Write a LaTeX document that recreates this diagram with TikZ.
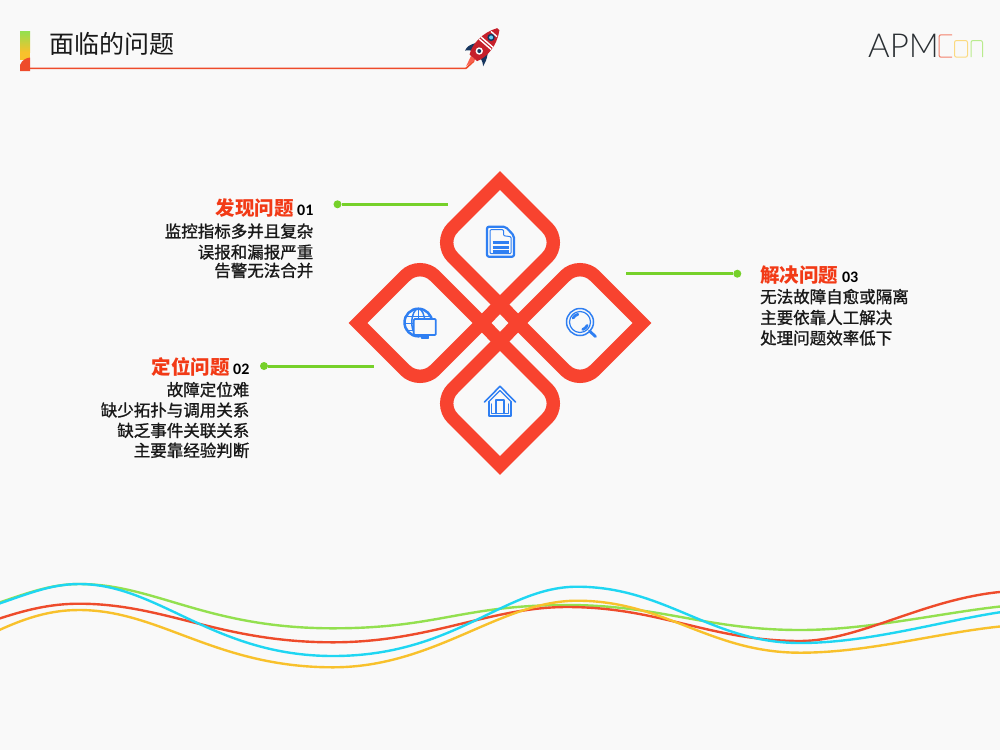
\documentclass[tikz,border=0pt]{standalone}
\usepackage{fontspec}
\usepackage{xcolor}
\usepackage{tikz}
\usetikzlibrary{arrows.meta,positioning}
\newfontfamily\cjkfont{Noto Sans CJK SC}
\newfontfamily\cjkdark[FakeBold=1.2]{Noto Sans CJK SC}
\newfontfamily\numfont{Carlito}
\newfontfamily\logofont{Lato Light}
\definecolor{pagebg}{HTML}{F9F9F9}
\definecolor{petalred}{HTML}{F8432F}
\definecolor{headred}{HTML}{F23A16}
\definecolor{leadgreen}{HTML}{76D12A}
\definecolor{iconblue}{HTML}{2F7FF2}
\definecolor{wavegreen}{HTML}{93E04F}
\definecolor{wavecyan}{HTML}{1FD6F2}
\definecolor{wavered}{HTML}{EE4B2B}
\definecolor{waveyellow}{HTML}{F8C12C}
\definecolor{finblue}{HTML}{17365F}
\definecolor{rocketred}{HTML}{C6202B}
\definecolor{logodark}{HTML}{2A2F33}
\tikzset{
  headtext/.style={inner sep=0pt, text height=16pt, text depth=4pt, text=headred,
    font=\cjkfont\bfseries\fontsize{19.5}{20}\selectfont},
  numtext/.style={inner sep=0pt, text=black, font=\numfont\bfseries\fontsize{16}{18}\selectfont},
  bodytext/.style={inner sep=0pt, text height=13pt, text depth=3pt, text=black!90,
    font=\cjkdark\fontsize{16.5}{17}\selectfont},
  leaderdot/.style={circle, fill=leadgreen, inner sep=0pt, minimum size=8pt},
  leaderline/.style={draw=leadgreen, line width=3pt},
  waveline/.style={line width=2.4pt},
  petalline/.style={draw=petalred, line width=13.4pt, miter limit=10},
  iconline/.style={draw=iconblue, line width=1.2pt, line join=round, line cap=round},
  petal/.pic={
    \draw[petalline]
      (0,-62) [rounded corners=21pt] -- (62,0) [sharp corners] -- (0,62)
      [rounded corners=21pt] -- (-62,0) [sharp corners] -- cycle;
  },
  docicon/.pic={
    \draw[iconline, line width=2.2pt, rounded corners=2pt]
      (-13.5,-15) -- (5,-15) -- (13.5,-6) -- (13.5,15) -- (-13.5,15) -- cycle;
    \draw[iconline, line width=1pt, rounded corners=1pt]
      (-10.5,-12) -- (3,-12) -- (3,-6) -- (10.5,-5) -- (10.5,12) -- (-10.5,12) -- cycle;
    \foreach \barY in {1,5.5,10}
      \draw[iconline, line width=2.6pt, line cap=butt] (-8,\barY) -- (8,\barY);
  },
  globeicon/.pic={
    \draw[iconline, line width=2.5pt] (0,0) circle (13.8pt);
    \draw[iconline, line width=1.5pt] (0,0) ellipse (6.5pt and 13.8pt);
    \draw[iconline, line width=1.5pt] (-13,-6) -- (13,-6) (-13.8,1) -- (13.8,1) (-12,8) -- (12,8) (0,-14) -- (0,14);
    \draw[iconline, fill=pagebg, line width=1.8pt, rounded corners=1pt] (-4.5,-3.5) rectangle (17.5,12.5);
    \draw[iconline, fill=iconblue] (3,13) rectangle (10,15.5);
  },
  lensicon/.pic={
    \draw[iconline, line width=1.5pt] (0,0) circle (13.5pt);
    \draw[iconline] (0,0) circle (10.5pt);
    \draw[iconline, line width=2.8pt] (-6.93,-4) arc[start angle=150, end angle=105, radius=8pt];
    \draw[iconline, line width=2.8pt] (7.25,3.38) arc[start angle=-25, end angle=-70, radius=8pt];
    \draw[iconline, line width=2.8pt] (9.5,9) -- (15.5,14.5);
  },
  houseicon/.pic={
    \draw[iconline, line width=1.6pt] (-15.5,1) -- (0,-14.7) -- (15.5,1);
    \draw[iconline] (-11.5,1) -- (0,-10.5) -- (11.5,1);
    \draw[iconline, line width=1.5pt] (-11,1) -- (-11,15) -- (11,15) -- (11,1);
    \draw[iconline] (-8.2,3) -- (-8.2,12.3) -- (8.2,12.3) -- (8.2,3);
    \draw[iconline, line width=2pt] (-4,12.3) -- (-4,-1.5) -- (4,-1.5) -- (4,12.3);
  },
  rocket/.pic={
    \fill[petalred!85] (-17,-3) -- (-28,0) -- (-17,3) -- cycle;
    \fill[finblue] (-3,-7) .. controls (-10,-12) and (-13,-12) .. (-17,-11) .. controls (-13,-8) and (-13,-6) .. (-12,-3) -- cycle;
    \fill[finblue] (-3,7) .. controls (-10,12) and (-13,12) .. (-17,13) .. controls (-13,9) and (-13,6) .. (-12,3) -- cycle;
    \fill[rocketred] (-17,-5) .. controls (-8,-10) and (8,-10) .. (21,-1.5)
      .. controls (21.5,-0.5) and (21.5,0.5) .. (21,1.5) .. controls (8,10) and (-8,10) .. (-17,5) -- cycle;
    \draw[white, line width=1.4pt] (1,-8) -- (1,8) (3.8,-8) -- (3.8,8) (14.5,-4) -- (14.5,4);
    \fill[finblue] (10,0) circle (3.7pt);
    \fill[white!40!cyan] (10,0) circle (2pt);
    \fill[white] (-8,0) circle (3.7pt);
    \fill[finblue] (-8,0) circle (2pt);
  }
}
\begin{document}
\begin{tikzpicture}[x=1pt,y=-1pt]
\useasboundingbox (0,0) rectangle (1000,750);
\fill[pagebg] (0,0) rectangle (1000,750);

% header
\shade[top color=wavegreen, bottom color=waveyellow] (20,31) rectangle (30,52);
\fill[waveyellow] (20,52) rectangle (30,60);
\fill[wavered] (20,71) -- (20,65) .. controls (22,60) and (26,58) .. (30,57.5) -- (30,71) -- cycle;
\node[inner sep=0pt, anchor=west, text=black!90, font=\cjkfont\fontsize{25}{27}\selectfont] (title) at (49,43.5) {面临的问题};
\coordinate (ruleleft) at (30,68.3);
\coordinate (ruleright) at (466,68.3);
\coordinate (ruletip) at (474,61);
\draw[wavered, line width=1.6pt] (ruleleft) -- (ruleright) -- (ruletip);
\pic[rotate=49] (ship) at (484.5,45) {rocket};

% logo
\node[inner sep=0pt, anchor=base west, text=logodark, font=\logofont\fontsize{33}{34}\selectfont] (logo) at (868,57.7) {APM};
\draw[wavered!70, line width=1pt, rounded corners=2pt] (952,34.8) -- (939,34.8) -- (939,57.2) -- (952,57.2);
\draw[waveyellow!60, line width=1pt, rounded corners=2pt] (954.5,40.5) rectangle (967.5,57.2);
\draw[wavegreen!65, line width=1pt, rounded corners=2pt] (971,57.2) -- (971,40.5) -- (982.5,40.5) -- (982.5,57.2);

% petals
\pic (p1) at (500,242.5) {petal};
\pic[rotate=90] (p2) at (420,323) {petal};
\pic[rotate=90] (p3) at (580,323) {petal};
\pic (p4) at (500,403.5) {petal};
\draw[petalline] (500,304.5) -- (518,323) -- (500,341.5) -- (482,323) -- cycle;
\pic (i1) at (500.5,241.7) {docicon};
\pic (i2) at (418.3,322.5) {globeicon};
\pic (i3) at (580,322) {lensicon};
\pic (i4) at (500,401) {houseicon};

% first note
\node[leaderdot] (dot1) at (337.5,204.3) {};
\coordinate (end1) at (448,204.3);
\draw[leaderline] (dot1) -- (end1);
\node[headtext, anchor=east] (find) at (294,209.5) {发现问题};
\node[numtext, right=3pt of find, yshift=-1pt] (num1) {01};
\node[bodytext, below left=4.5pt and -19.5pt of find.south east] (find1) {监控指标多并且复杂};
\node[bodytext, below left=4.5pt and 0pt of find1.south east] (find2) {误报和漏报严重};
\node[bodytext, below left=2pt and 0pt of find2.south east] (find3) {告警无法合并};

% second note
\node[leaderdot] (dot2) at (264,366) {};
\coordinate (end2) at (374.3,366);
\draw[leaderline] (dot2) -- (end2);
\node[headtext, anchor=east] (locate) at (230,368.5) {定位问题};
\node[numtext, right=3pt of locate, yshift=-1pt] (num2) {02};
\node[bodytext, below left=4pt and -19.5pt of locate.south east] (locate1) {故障定位难};
\node[bodytext, below left=4pt and 0pt of locate1.south east] (locate2) {缺少拓扑与调用关系};
\node[bodytext, below left=4pt and 0pt of locate2.south east] (locate3) {缺乏事件关联关系};
\node[bodytext, below left=3.5pt and 0pt of locate3.south east] (locate4) {主要靠经验判断};

% third note
\node[leaderdot] (dot3) at (737.3,273.7) {};
\coordinate (end3) at (626,273.7);
\draw[leaderline] (dot3) -- (end3);
\node[headtext, anchor=west] (solve) at (760,276.5) {解决问题};
\node[numtext, right=3.5pt of solve, yshift=-0.5pt] (num3) {03};
\node[bodytext, below right=3pt and 0pt of solve.south west] (solve1) {无法故障自愈或隔离};
\node[bodytext, below right=4.5pt and 0pt of solve1.south west] (solve2) {主要依靠人工解决};
\node[bodytext, below right=4pt and 0pt of solve2.south west] (solve3) {处理问题效率低下};

% waves
\draw[wavegreen, waveline] (-5,604) .. controls (25,594) and (50,584) .. (79,584)
  .. controls (155,584) and (206,628.3) .. (333,628.3)
  .. controls (438,628.3) and (462,605) .. (567,605)
  .. controls (660,605) and (707,630) .. (800,630)
  .. controls (870,630) and (945,612) .. (1005,606);
\draw[wavered, waveline] (-5,620) .. controls (25,610) and (50,603.7) .. (79,603.7)
  .. controls (165,603.7) and (220,642.3) .. (333,642.3)
  .. controls (430,642.3) and (490,607) .. (567,607)
  .. controls (660,607) and (710,641) .. (800,641)
  .. controls (860,641) and (925,598) .. (1005,591.5);
\draw[waveyellow, waveline] (-5,632) .. controls (25,618) and (50,610) .. (79,610)
  .. controls (160,610) and (215,667.3) .. (333,667.3)
  .. controls (435,667.3) and (500,600.7) .. (577,600.7)
  .. controls (665,600.7) and (710,652.7) .. (800,652.7)
  .. controls (870,652.7) and (940,632) .. (1005,626);
\draw[wavecyan, waveline] (-5,605) .. controls (25,595) and (50,584) .. (79,584)
  .. controls (159,584) and (213,656) .. (333,656)
  .. controls (455,656) and (504,586.7) .. (577,586.7)
  .. controls (666,586.7) and (711,643) .. (800,643)
  .. controls (870,643) and (945,620) .. (1005,611.5);
\end{tikzpicture}
\end{document}
